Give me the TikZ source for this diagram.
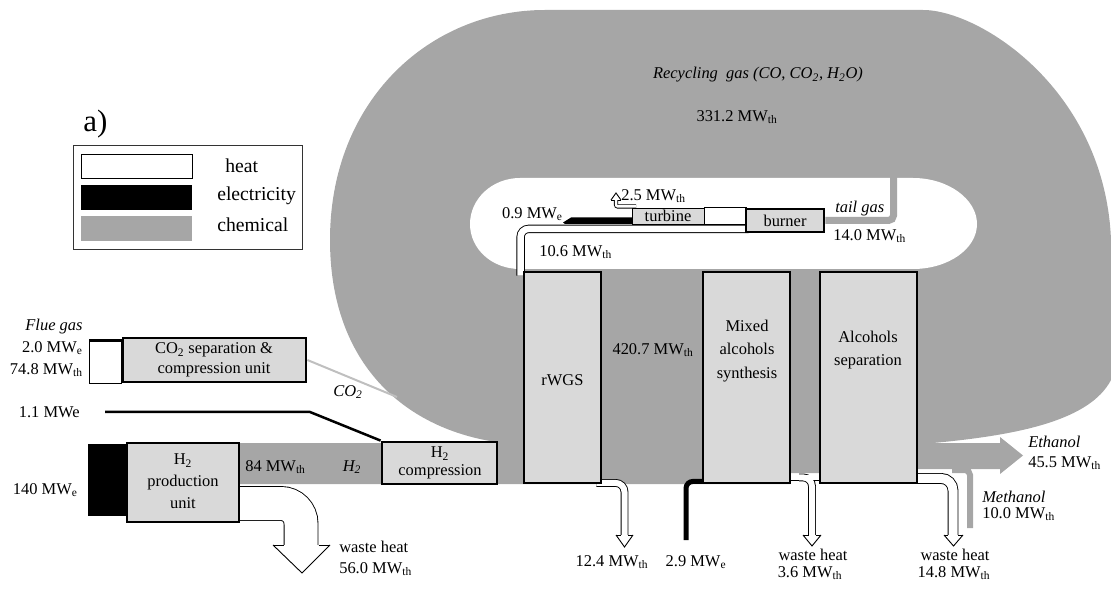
\documentclass[tikz,border=0pt]{standalone}
\usepackage{fontspec}
\setmainfont{Liberation Serif}
\usepackage{tikz}
\usetikzlibrary{fit,calc,backgrounds}
\newlength\pxu
\setlength\pxu{0.025cm}
\definecolor{chem}{HTML}{A6A6A6}
\definecolor{boxgrey}{HTML}{D9D9D9}
\definecolor{co2line}{HTML}{BFBFBF}
\newcommand{\MWth}{MW\textsubscript{th}}
\newcommand{\MWe}{MW\textsubscript{e}}

\begin{document}
\begin{tikzpicture}[x=0.025cm, y=-0.025cm,
    every node/.style={font=\fontsize{11.7}{16}\selectfont, inner sep=0pt},
    unit/.style={draw, line width=2.8\pxu, fill=boxgrey, inner sep=0pt},
    thinunit/.style={draw, line width=0.8\pxu, fill=boxgrey, inner sep=0pt},
    boxtext/.style={align=center},
    ital/.style={font=\fontsize{11.7}{16}\selectfont\itshape},
    legtext/.style={anchor=west, font=\fontsize{14}{16}\selectfont},
    heatflow/.style={draw=black, line width=0.9\pxu, double=white, double distance=#1},
    heathead/.style={fill=white, draw=black, line width=0.9\pxu},
    chemflow/.style={draw=chem, line width=#1},
    elec/.style={draw=black, line width=#1}
]
\useasboundingbox (0,0) rectangle (1111,589);

\node[unit, fit={(127,443) (239,522)}] (h2prod) {};
\node[unit, fit={(382,442) (497,484)}] (h2comp) {};
\node[unit, fit={(123,338) (306,382)}] (co2sep) {};
\node[unit, fit={(524,272) (601,483)}] (rwgs) {};
\node[unit, fit={(703,272) (790,483)}] (mixsyn) {};
\node[unit, fit={(820,272) (917,483)}] (alcsep) {};
\node[thinunit, fit={(632,208) (704,224)}] (turbine) {};
\node[unit, fit={(746,209) (824,232)}] (burner) {};

\node[boxtext, font=\fontsize{11.7}{15.5}\selectfont] (h2prodtxt) at (183,481) {H\textsubscript{2}\\production\\unit};
\node[boxtext, font=\fontsize{11.7}{13}\selectfont] (h2comptxt) at (440,463) {H\textsubscript{2}\\compression};
\node[boxtext, font=\fontsize{11.7}{14}\selectfont] (co2septxt) at (214,360) {CO\textsubscript{2} separation \&\\compression unit};
\node[boxtext] (rwgstxt) at (562.5,380) {rWGS};
\node[boxtext, font=\fontsize{11.7}{17}\selectfont] (mixtxt) at (747,351) {Mixed\\alcohols\\synthesis};
\node[boxtext, font=\fontsize{11.7}{17}\selectfont] (septxt) at (868,350) {Alcohols\\separation};
\node[boxtext] (turbinetxt) at (668,216) {turbine};
\node[boxtext] (burnertxt) at (785,221) {burner};

\coordinate (co2end) at (397,397);
\coordinate (e11) at (105,412);
\coordinate (e29) at (686,540);
\coordinate (wh56) at (301,545);
\coordinate (wh12) at (624.5,535);
\coordinate (wh36) at (812,535);
\coordinate (wh148) at (953,535);
\coordinate (meth) at (970,528);
\coordinate (tailtop) at (893.5,175);

\begin{scope}[on background layer]
\fill[chem] (235,443) -- (490,443) -- (490,441) .. controls (400,425) and (330,360) .. (330,240)
  .. controls (330,100) and (430,10) .. (545,10) -- (923,10)
  .. controls (980,10) and (1105,90) .. (1111,240) -- (1111,380)
  .. controls (1090,420) and (1020,435) .. (933,443) -- (1000,443) -- (1000,437)
  -- (1023,455.5) -- (1000,474) -- (1000,469) -- (917,469) -- (917,473)
  -- (790,473) -- (790,484) -- (235,484) -- cycle;
\fill[white] (520,178) -- (913,178) .. controls (948,178) and (977,199) .. (977,224)
  .. controls (977,249) and (948,269) .. (913,269) -- (520,269)
  .. controls (492,269) and (470,249) .. (470,224) .. controls (470,199) and (492,178) .. (520,178) -- cycle;
\draw[chemflow=7\pxu, rounded corners=5\pxu] (burner.east) -| (tailtop);
\draw[line width=0.8\pxu, fill=white] (turbine.north east) rectangle (746,224);

\fill (88,444) rectangle (127,516);
\draw[line width=0.8\pxu, fill=white] (89,341.5) rectangle (co2sep.south west);
\fill (89,339.5) rectangle (123,341.5);
\draw[co2line, line width=2\pxu] (co2sep.east) -- (co2end);
\draw[elec=2.5\pxu] (e11) -- (310,412) -- (h2comp.north west);

\draw[heatflow=33\pxu, rounded corners=20\pxu] ($(h2prod.east)+(-6,21)$) -| (wh56);
\filldraw[heathead] (273,545) -- (302,573) -- (330,545);
\draw[line width=0.9\pxu] (273,545) -- (283.5,545) (318.5,545) -- (330,545);

\draw[heatflow=6\pxu, rounded corners=9\pxu] ($(rwgs.south east)+(-6,-1.5)$) -| (wh12);
\filldraw[heathead] (616,535) -- (624.5,547) -- (633,535);
\draw[line width=0.9\pxu] (616,535) -- (621,535) (628,535) -- (633,535);

\draw[heatflow=6\pxu] ($(mixsyn.south east)+(-4,-7)$) -- ($(alcsep.south west)+(4,-7)$);
\draw[heatflow=6\pxu, rounded corners=9\pxu] (799,477.4) -| (wh36);
\fill[white] (792,474.6) rectangle (818,480.2);
\filldraw[heathead] (803,535) -- (812,546) -- (821,535);
\draw[line width=0.9\pxu] (803,535) -- (808.5,535) (815.5,535) -- (821,535);

\draw[heatflow=9\pxu, rounded corners=12\pxu] ($(alcsep.south east)+(-6,-6)$) -| (wh148);
\filldraw[heathead] (944,535) -- (953.5,546) -- (963,535);
\draw[line width=0.9\pxu] (944,535) -- (948,535) (958,535) -- (963,535);

\draw[chemflow=6\pxu, rounded corners=5\pxu] (952,470) -| (meth);
\draw[elec=5\pxu, rounded corners=7\pxu] (e29) |- ($(mixsyn.south west)+(3,-3)$);

\draw[heatflow=6.5\pxu, rounded corners=8\pxu] ($(burner.south west)+(4,-4.5)$) -| ($(rwgs.north west)+(-2,5)$);
\fill (563,222.5) -- (571,217.5) -- (632,217.5) -- (632,224) -- (565,224) -- cycle;
\draw[heatflow=2.5\pxu, rounded corners=2\pxu] (636,206.5) -| (616,200);
\filldraw[heathead] (611,200) -- (616,193) -- (621,200);
\draw[line width=0.9\pxu] (611,200) -- (614.3,200) (617.7,200) -- (621,200);
\end{scope}

\node[anchor=west, font=\fontsize{22}{24}\selectfont] (tag) at (83,124) {a)};
\draw[line width=0.8\pxu, draw=black!80] (73,145) rectangle (302,249);
\draw[line width=0.8\pxu, fill=white] (81,154) rectangle (192,178);
\fill (81,185) rectangle (192,210);
\fill[chem] (81,216) rectangle (192,241);
\node[legtext] (legheat) at (225,166) {heat};
\node[legtext] (legelec) at (217,196) {electricity};
\node[legtext] (legchem) at (217,225) {chemical};

\node[ital] (fluegas) at (54,327) {Flue gas};
\node[anchor=east] (in2) at (83,348) {2.0 \MWe};
\node[anchor=east] (in74) at (83,370) {74.8 \MWth};
\node[anchor=east] (in11) at (80,412) {1.1 MWe};
\node[anchor=east] (in140) at (78,490) {140 \MWe};
\node[anchor=west] (out84) at (245,467) {84 \MWth};
\node[ital] (h2lbl) at (352,467) {H\textsubscript{2}};
\node[ital] (co2lbl) at (348,392) {CO\textsubscript{2}};
\node[anchor=west] (wh56a) at (339,547) {waste heat};
\node[anchor=west] (wh56b) at (339,569) {56.0 \MWth};
\node (wh12lbl) at (612,562) {12.4 \MWth};
\node (el29lbl) at (696,562) {2.9 \MWe};
\node (wh36a) at (813,555) {waste heat};
\node (wh36b) at (810,573) {3.6 \MWth};
\node (wh148a) at (955,555) {waste heat};
\node (wh148b) at (954,573) {14.8 \MWth};
\node[ital, anchor=west] (methlbl) at (982,497) {Methanol};
\node[anchor=west] (methval) at (982,514) {10.0 \MWth};
\node[ital, anchor=west] (ethlbl) at (1028,442) {Ethanol};
\node[anchor=west] (ethval) at (1028,463) {45.5 \MWth};
\node (loopval) at (653,350) {420.7 \MWth};
\node[anchor=west] (hx106) at (539,252) {10.6 \MWth};
\node[anchor=east] (el09) at (563,214) {0.9 \MWe};
\node[anchor=west] (hx25) at (621,196) {2.5 \MWth};
\node[ital, anchor=west] (tailgas) at (835,209) {tail gas};
\node[anchor=west] (tg14) at (833,236) {14.0 \MWth};
\node[ital] (recyc) at (758,75) {Recycling\ \ gas (CO, CO\textsubscript{2}, H\textsubscript{2}O)};
\node (recycval) at (737,117) {331.2 \MWth};
\end{tikzpicture}
\end{document}
